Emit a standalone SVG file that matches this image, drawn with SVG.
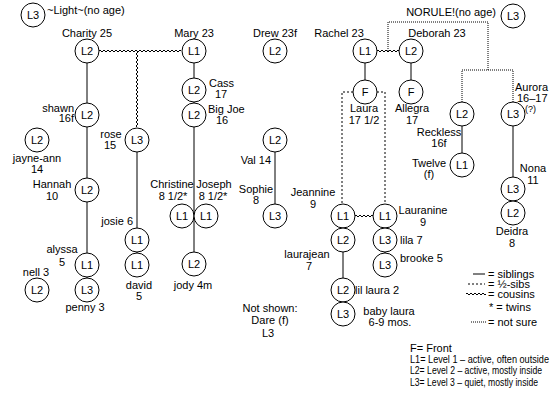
<svg xmlns="http://www.w3.org/2000/svg" width="550" height="400" viewBox="0 0 550 400">
<style>
text{font-family:"Liberation Sans",Arial,sans-serif;font-size:11px;fill:#000}
.c{text-anchor:middle}
.e{text-anchor:end}
.n circle{fill:#fff;stroke:#000;stroke-width:1}
.ln{stroke:#000;stroke-width:1;fill:none}
.half{stroke-dasharray:2,2}
.dot{stroke-dasharray:1,1}
</style>
<rect width="550" height="400" fill="#fff"/>
<g id="connectors">
<path class="ln" d="M87,63V103M87,127V178M87,202V253M87,277V278M194,63V78M194,102V103M194,127V252M275,152V204M137,152V228M137,252V253M365,63V80M411,63V80M343,228V228M343,252V278M343,302V302M385,228V228M385,252V253M462,126V153M513,126V177M513,201V201"/>
<path class="ln" d="M99,51q1,-2 2,0t2,0t2,0t2,0t2,0t2,0t2,0t2,0t2,0t2,0t2,0t2,0t2,0t2,0t2,0t2,0t2,0t2,0t2,0t2,0t2,0t2,0t2,0t2,0t2,0t2,0t2,0t2,0t2,0t2,0t2,0t2,0t2,0t2,0t2,0t2,0t2,0t2,0t2,0t2,0t2,0"/>
<path class="ln" d="M137,51q2,1 0,2t0,2t0,2t0,2t0,2t0,2t0,2t0,2t0,2t0,2t0,2t0,2t0,2t0,2t0,2t0,2t0,2t0,2t0,2t0,2t0,2t0,2t0,2t0,2t0,2t0,2t0,2t0,2t0,2t0,2t0,2t0,2t0,2t0,2t0,2t0,2t0,2t0,2"/>
<path class="ln" d="M377,51q1,-2 2,0t2,0t2,0t2,0t2,0t2,0t2,0t2,0t2,0t2,0t2,0"/>
<path class="ln" d="M355,216q1,-2 2,0t2,0t2,0t2,0t2,0t2,0t2,0t2,0t2,0"/>
<path class="ln dot" d="M388,51V22H488V70M462,102V70H513V102"/>
<path class="ln half" d="M353,92H342V204M377,92H385V204"/>
</g>
<g id="light" class="n"><circle cx="33" cy="15" r="12"/><text class="c" x="33" y="19">L3</text><text x="47" y="14">~Light~(no age)</text></g>
<g id="norule" class="n"><circle cx="513" cy="16" r="12"/><text class="c" x="513" y="20">L3</text><text class="e" x="496" y="16">NORULE!(no age)</text></g>
<g id="charity" class="n"><circle cx="87" cy="51" r="12"/><text class="c" x="87" y="55">L2</text><text class="c" x="87" y="37">Charity 25</text></g>
<g id="mary" class="n"><circle cx="194" cy="51" r="12"/><text class="c" x="194" y="55">L1</text><text class="c" x="194" y="37">Mary 23</text></g>
<g id="drew" class="n"><circle cx="275" cy="51" r="12"/><text class="c" x="275" y="55">L2</text><text class="c" x="275" y="37">Drew 23f</text></g>
<g id="rachel" class="n"><circle cx="365" cy="51" r="12"/><text class="c" x="365" y="55">L1</text><text class="c" x="339" y="37">Rachel 23</text></g>
<g id="deborah" class="n"><circle cx="411" cy="51" r="12"/><text class="c" x="411" y="55">L2</text><text class="c" x="437" y="37">Deborah 23</text></g>
<g id="cass" class="n"><circle cx="194" cy="90" r="12"/><text class="c" x="194" y="94">L2</text><text x="209" y="87">Cass</text><text class="c" x="221" y="98">17</text></g>
<g id="bigjoe" class="n"><circle cx="194" cy="115" r="12"/><text class="c" x="194" y="119">L2</text><text x="208" y="113">Big Joe</text><text class="c" x="222" y="124">16</text></g>
<g id="laura" class="n"><circle cx="365" cy="92" r="12"/><text class="c" x="365" y="96">F</text><text class="c" x="364" y="112">Laura</text><text class="c" x="364" y="124">17 1/2</text></g>
<g id="allegra" class="n"><circle cx="411" cy="92" r="12"/><text class="c" x="411" y="96">F</text><text class="c" x="412" y="112">Allegra</text><text class="c" x="412" y="124">17</text></g>
<g id="reckless" class="n"><circle cx="462" cy="114" r="12"/><text class="c" x="462" y="118">L2</text><text class="c" x="439" y="136">Reckless</text><text class="c" x="439" y="147">16f</text></g>
<g id="aurora" class="n"><circle cx="513" cy="114" r="12"/><text class="c" x="513" y="118">L3</text><text x="515" y="91">Aurora</text><text x="517" y="102">16–17</text><text x="525" y="112" style="font-size:9px">(?)</text></g>
<g id="shawn" class="n"><circle cx="87" cy="115" r="12"/><text class="c" x="87" y="119">L2</text><text class="e" x="74" y="112">shawn</text><text class="e" x="74" y="122">16f</text></g>
<g id="jayneann" class="n"><circle cx="37" cy="140" r="12"/><text class="c" x="37" y="144">L2</text><text class="c" x="37" y="162">jayne-ann</text><text class="c" x="37" y="173">14</text></g>
<g id="rose" class="n"><circle cx="137" cy="140" r="12"/><text class="c" x="137" y="144">L3</text><text class="c" x="111" y="138">rose</text><text class="c" x="110" y="149">15</text></g>
<g id="val" class="n"><circle cx="275" cy="140" r="12"/><text class="c" x="275" y="144">L2</text><text class="e" x="271" y="164">Val 14</text></g>
<g id="twelve" class="n"><circle cx="462" cy="165" r="12"/><text class="c" x="462" y="169">L1</text><text class="c" x="429" y="167">Twelve</text><text class="c" x="429" y="178">(f)</text></g>
<g id="nona" class="n"><circle cx="513" cy="189" r="12"/><text class="c" x="513" y="193">L3</text><text class="c" x="533" y="172">Nona</text><text class="c" x="533" y="184">11</text></g>
<g id="hannah" class="n"><circle cx="87" cy="190" r="12"/><text class="c" x="87" y="194">L2</text><text class="c" x="52" y="188">Hannah</text><text class="c" x="52" y="200">10</text></g>
<g id="christine" class="n"><circle cx="182" cy="216" r="12"/><text class="c" x="182" y="220">L1</text><text class="c" x="172" y="188">Christine</text><text class="c" x="173" y="200">8 1/2*</text></g>
<g id="joseph" class="n"><circle cx="206" cy="216" r="12"/><text class="c" x="206" y="220">L1</text><text class="c" x="214" y="188">Joseph</text><text class="c" x="213" y="200">8 1/2*</text></g>
<g id="sophie" class="n"><circle cx="275" cy="216" r="12"/><text class="c" x="275" y="220">L3</text><text class="c" x="256" y="193">Sophie</text><text class="c" x="256" y="204">8</text></g>
<g id="jeannine" class="n"><circle cx="343" cy="216" r="12"/><text class="c" x="343" y="220">L1</text><text class="c" x="313" y="196">Jeannine</text><text class="c" x="313" y="208">9</text></g>
<g id="lauranine" class="n"><circle cx="385" cy="216" r="12"/><text class="c" x="385" y="220">L1</text><text class="c" x="423" y="214">Lauranine</text><text class="c" x="423" y="226">9</text></g>
<g id="deidra" class="n"><circle cx="513" cy="213" r="12"/><text class="c" x="513" y="217">L2</text><text class="c" x="512" y="235">Deidra</text><text class="c" x="512" y="247">8</text></g>
<g id="josie" class="n"><circle cx="137" cy="240" r="12"/><text class="c" x="137" y="244">L1</text><text class="e" x="133" y="225">josie 6</text></g>
<g id="laurajean" class="n"><circle cx="343" cy="240" r="12"/><text class="c" x="343" y="244">L2</text><text class="c" x="307" y="258">laurajean</text><text class="c" x="309" y="270">7</text></g>
<g id="lila" class="n"><circle cx="385" cy="240" r="12"/><text class="c" x="385" y="244">L3</text><text x="400" y="244">lila 7</text></g>
<g id="alyssa" class="n"><circle cx="87" cy="265" r="12"/><text class="c" x="87" y="269">L1</text><text class="c" x="62" y="253">alyssa</text><text class="c" x="62" y="266">5</text></g>
<g id="david" class="n"><circle cx="137" cy="265" r="12"/><text class="c" x="137" y="269">L1</text><text class="c" x="139" y="289">david</text><text class="c" x="139" y="300">5</text></g>
<g id="jody" class="n"><circle cx="194" cy="264" r="12"/><text class="c" x="194" y="268">L2</text><text class="c" x="193" y="289">jody 4m</text></g>
<g id="brooke" class="n"><circle cx="385" cy="265" r="12"/><text class="c" x="385" y="269">L3</text><text x="400" y="262">brooke 5</text></g>
<g id="nell" class="n"><circle cx="37" cy="290" r="12"/><text class="c" x="37" y="294">L2</text><text class="c" x="36" y="276">nell 3</text></g>
<g id="penny" class="n"><circle cx="87" cy="290" r="12"/><text class="c" x="87" y="294">L3</text><text class="c" x="85" y="311">penny 3</text></g>
<g id="lillaura" class="n"><circle cx="343" cy="290" r="12"/><text class="c" x="343" y="294">L2</text><text x="355" y="294">lil laura 2</text></g>
<g id="babylaura" class="n"><circle cx="343" cy="314" r="12"/><text class="c" x="343" y="318">L3</text><text class="c" x="389" y="315">baby laura</text><text class="c" x="390" y="326">6-9 mos.</text></g>
<g id="notshown"><text class="c" x="270" y="312">Not shown:</text><text class="c" x="270" y="324">Dare (f)</text><text class="c" x="268" y="337">L3</text></g>
<g id="legend">
<path class="ln" d="M473,274H485"/>
<path class="ln half" d="M468,284H485"/>
<path class="ln" d="M466,294q1,-2 2,0t2,0t2,0t2,0t2,0t2,0t2,0t2,0t2,0t2,0"/>
<path class="ln dot" d="M471,322H486"/>
<text x="488" y="278">= siblings</text>
<text x="488" y="288">= ½-sibs</text>
<text x="488" y="298">= cousins</text>
<text x="489" y="311">* = twins</text>
<text x="488" y="326">= not sure</text>
<text x="410" y="352">F= Front</text>
<text x="410" y="363" textLength="139" lengthAdjust="spacingAndGlyphs">L1= Level 1 – active, often outside</text>
<text x="410" y="374" textLength="132" lengthAdjust="spacingAndGlyphs">L2= Level 2 – active, mostly inside</text>
<text x="410" y="386" textLength="128" lengthAdjust="spacingAndGlyphs">L3= Level 3 – quiet, mostly inside</text>
</g>
</svg>
